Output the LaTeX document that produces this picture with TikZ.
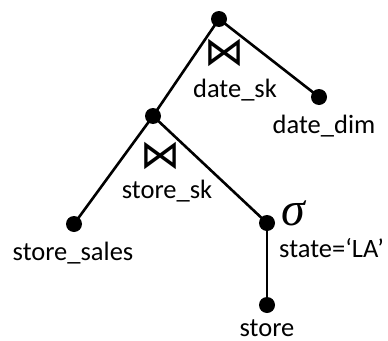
\documentclass[tikz,border=0pt]{standalone}
\usepackage{fontspec}
\setmainfont{Carlito}
\newfontfamily\symfont{DejaVu Sans}
\newfontfamily\sigfont{Liberation Serif Italic}
\begin{document}
\begin{tikzpicture}[x=1pt,y=-1pt,
  dot/.style={circle,fill=black,inner sep=0pt,minimum size=16pt},
  edge/.style={line width=2.6pt},
  lbl/.style={font=\fontsize{26.5}{30}\selectfont,inner sep=0pt,anchor=base},
  joinsym/.style={font=\symfont\fontsize{40}{40}\selectfont,inner sep=0pt}]
\useasboundingbox (0,0) rectangle (388,340);
\node[dot] (a) at (219,19) {};
\node[dot] (b) at (319,97) {};
\node[dot] (c) at (153,116) {};
\node[dot] (d) at (74,224) {};
\node[dot] (e) at (267,223) {};
\node[dot] (f) at (267,305) {};
\draw[edge] (a.center) -- (b.center);
\draw[edge] (a.center) -- (c.center);
\draw[edge] (c.center) -- (d.center);
\draw[edge] (c.center) -- (e.center);
\draw[edge] (e.center) -- (f.center);
\node[joinsym] (j1) at (224,53) {⋈};
\node[joinsym] (j2) at (160,156) {⋈};
\node[lbl] (l1) at (235,97) {date\_sk};
\node[lbl] (l2) at (324,133) {date\_dim};
\node[lbl] (l3) at (167,198) {store\_sk};
\node[lbl] (l4) at (73,260) {store\_sales};
\node[font=\sigfont\fontsize{48}{48}\selectfont,inner sep=0pt] (s) at (293,213) {σ};
\node[lbl,anchor=base west] (l5) at (279,257) {state=‘LA’};
\node[lbl] (l6) at (267,336) {store};
\end{tikzpicture}
\end{document}
